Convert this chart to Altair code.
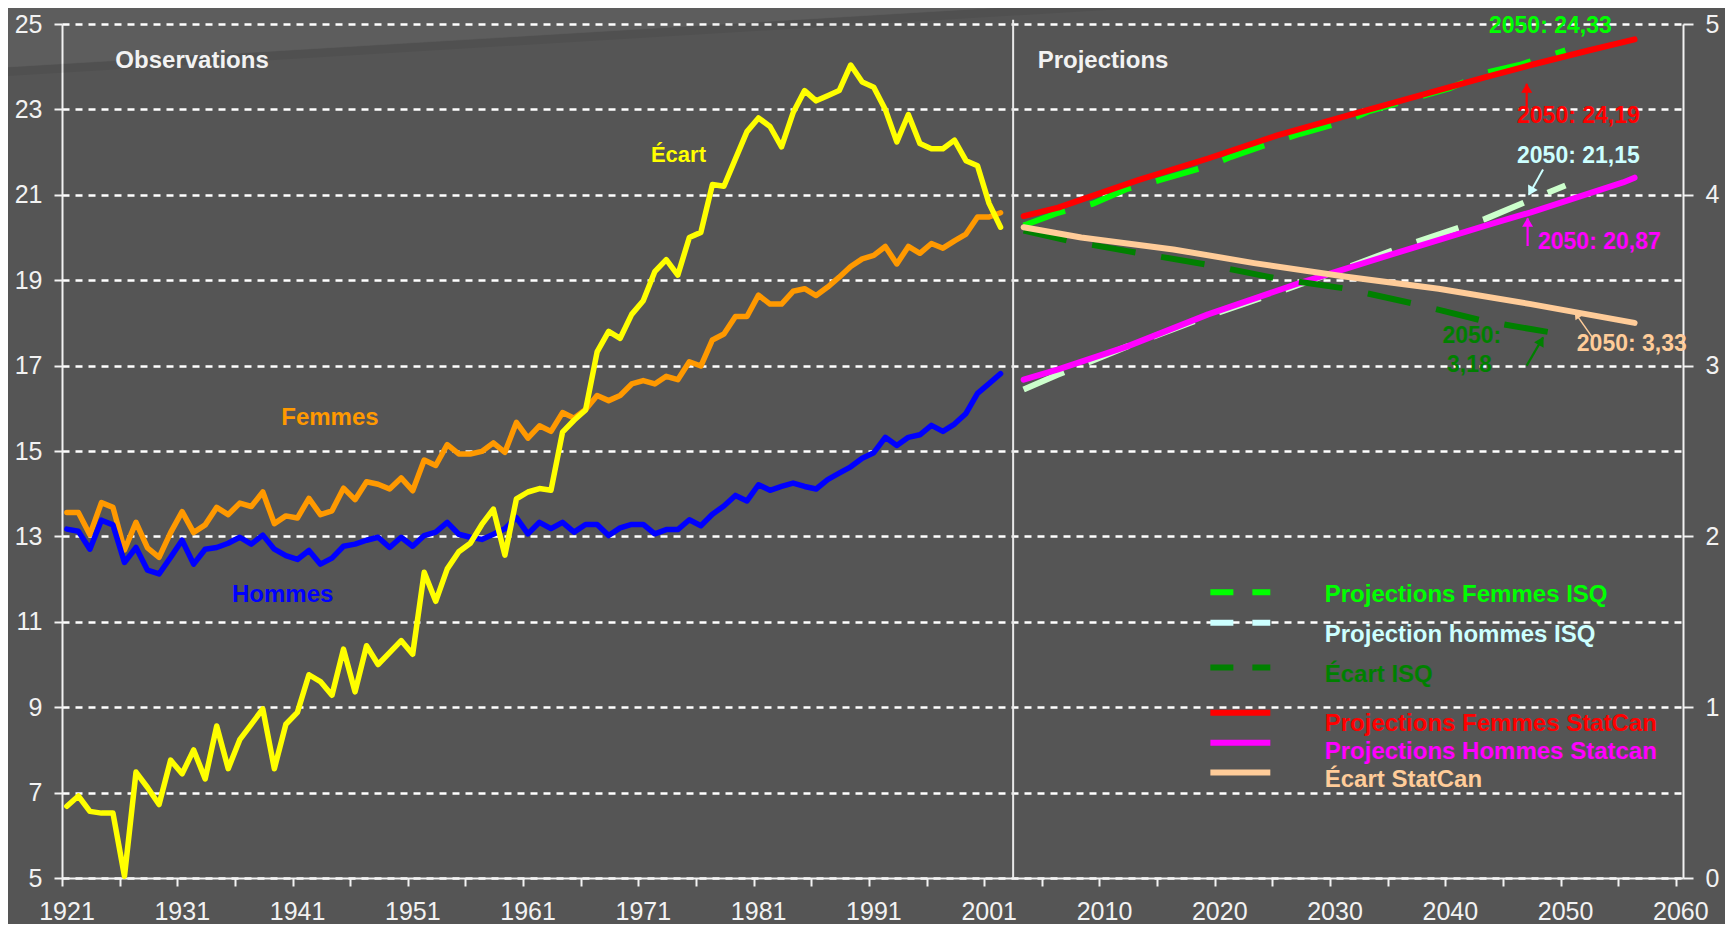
import json
import altair as alt
import pandas as pd

FONT = "Liberation Sans"
WHITE = "#F2F2F2"

# ---------------- data ----------------
OBS_YEARS = list(range(1921, 2003))
FEMMES = [
    13.56, 13.56, 13.04, 13.79, 13.68, 12.68, 13.33, 12.73, 12.51, 13.09,
    13.58, 13.09, 13.27, 13.68, 13.51, 13.78, 13.70, 14.04, 13.30, 13.48,
    13.43, 13.89, 13.51, 13.60, 14.13, 13.86, 14.28, 14.22, 14.11, 14.37,
    14.07, 14.79, 14.66, 15.15, 14.93, 14.93, 14.99, 15.19, 14.97, 15.67,
    15.30, 15.59, 15.46, 15.90, 15.77, 15.97, 16.30, 16.18, 16.30, 16.57,
    16.65, 16.57, 16.75, 16.67, 17.09, 16.99, 17.60, 17.74, 18.15, 18.15,
    18.65, 18.44, 18.44, 18.74, 18.80, 18.64, 18.84, 19.07, 19.32, 19.50,
    19.58, 19.79, 19.38, 19.79, 19.63, 19.86, 19.75, 19.92, 20.08, 20.48,
    20.48, 20.58,
]
HOMMES = [
    13.17, 13.12, 12.70, 13.38, 13.27, 12.39, 12.74, 12.21, 12.12, 12.51,
    12.91, 12.35, 12.70, 12.74, 12.84, 12.98, 12.82, 13.03, 12.70, 12.55,
    12.46, 12.67, 12.35, 12.49, 12.77, 12.82, 12.91, 12.98, 12.74, 12.98,
    12.77, 13.02, 13.10, 13.33, 13.05, 12.98, 12.93, 13.05, 13.18, 13.44,
    13.06, 13.33, 13.18, 13.33, 13.10, 13.28, 13.28, 13.02, 13.20, 13.28,
    13.28, 13.06, 13.16, 13.16, 13.39, 13.25, 13.52, 13.71, 13.96, 13.83,
    14.21, 14.08, 14.17, 14.25, 14.17, 14.11, 14.33, 14.48, 14.63, 14.83,
    14.96, 15.32, 15.13, 15.32, 15.38, 15.60, 15.46, 15.63, 15.88, 16.35,
    16.58, 16.81,
]
ECART = [
    0.42, 0.48, 0.39, 0.38, 0.38, 0.01, 0.62, 0.53, 0.43, 0.69,
    0.61, 0.75, 0.58, 0.89, 0.64, 0.81, 0.90, 0.99, 0.64, 0.90,
    0.97, 1.19, 1.15, 1.07, 1.34, 1.09, 1.36, 1.25, 1.32, 1.39,
    1.31, 1.79, 1.62, 1.81, 1.91, 1.96, 2.07, 2.16, 1.89, 2.22,
    2.26, 2.28, 2.27, 2.61, 2.68, 2.74, 3.08, 3.20, 3.16, 3.30,
    3.38, 3.55, 3.62, 3.53, 3.75, 3.78, 4.06, 4.05, 4.21, 4.37,
    4.45, 4.40, 4.28, 4.48, 4.61, 4.55, 4.58, 4.61, 4.76, 4.66,
    4.63, 4.50, 4.31, 4.47, 4.30, 4.27, 4.27, 4.32, 4.20, 4.17,
    3.95, 3.81,
]

ISQ_F_YEARS = [2003, 2006, 2009, 2012, 2015, 2019, 2021, 2025, 2027, 2031, 2033, 2037, 2040, 2043, 2046, 2050]
ISQ_F = [20.28, 20.58, 20.79, 21.14, 21.36, 21.67, 21.89, 22.26, 22.43, 22.73, 22.96, 23.27, 23.50, 23.85, 24.04, 24.38]
ISQ_H_YEARS = [2003, 2006, 2012, 2019, 2025, 2031, 2036, 2043, 2050]
ISQ_H = [16.44, 16.79, 17.45, 18.16, 18.71, 19.29, 19.80, 20.43, 21.22]
ISQ_E_YEARS = [2003, 2007, 2012, 2019, 2025, 2031, 2037, 2043, 2050]
ISQ_E = [3.79, 3.73, 3.67, 3.59, 3.51, 3.45, 3.36, 3.26, 3.18]
SC_F_YEARS = [2003, 2006, 2013, 2019, 2025, 2031, 2037, 2043, 2047, 2052, 2056]
SC_F = [20.50, 20.70, 21.35, 21.85, 22.39, 22.85, 23.30, 23.75, 24.04, 24.38, 24.64]
SC_H_YEARS = [2003, 2006, 2012, 2019, 2027, 2035, 2043, 2047, 2055, 2056]
SC_H = [16.67, 16.91, 17.45, 18.20, 18.94, 19.61, 20.27, 20.59, 21.29, 21.40]
SC_E_YEARS = [2003, 2008, 2016, 2023, 2031, 2039, 2047, 2056]
SC_E = [3.81, 3.75, 3.68, 3.60, 3.52, 3.45, 3.36, 3.25]

X_LABELS = ["1921", "", "1931", "", "1941", "", "1951", "", "1961", "", "1971", "",
            "1981", "", "1991", "", "2001", "", "2010", "", "2020", "", "2030", "",
            "2040", "", "2050", "", "2060"]
LEFT_TICKS = [5, 7, 9, 11, 13, 15, 17, 19, 21, 23, 25]
RIGHT_TICKS = [0, 1, 2, 3, 4, 5]

LEGEND_LABELS = ["Projections Femmes ISQ", "Projection hommes ISQ", "Écart ISQ",
                 "Projections Femmes StatCan", "Projections Hommes Statcan", "Écart StatCan"]

# ---------------- styling ----------------
C_FEM, C_HOM, C_ECA = "#FF9900", "#0000FF", "#FFFF00"
C_ISQF, C_ISQH, C_ISQE = "#00FF00", "#CCFFCC", "#008000"
C_SCF, C_SCH, C_SCE = "#FF0000", "#FF00FF", "#FFCC99"
C_ISQH_TXT = "#CCFFFF"
DASH = [44, 26]
OBS_W, PROJ_W = 5.5, 6.0

X0, X1 = -0.42, 140.2
W, H = 1621, 854


def obs_pos(y):
    return y - 1921


def proj_pos(y):
    return y - 1920


x_axis = alt.Axis(
    values=[X0 + 5 * k for k in range(29)],
    labelExpr=json.dumps(X_LABELS) + "[round((datum.value + 0.42) / 5)]",
    labelOffset=4.5, labelFlush=False, labelOverlap=False, labelBound=False,
    tickSize=8, tickWidth=2, tickColor=WHITE, domainColor=WHITE, domainWidth=2,
    labelColor=WHITE, labelFont=FONT, labelFontSize=25, labelPadding=13,
    grid=False, title=None,
)
X = lambda f="pos": alt.X(f"{f}:Q", scale=alt.Scale(domain=[X0, X1], nice=False, zero=False), axis=x_axis)

left_scale = alt.Scale(domain=[5, 25], nice=False, zero=False)
right_scale = alt.Scale(domain=[0, 5], nice=False, zero=False)

left_axis = alt.Axis(
    values=LEFT_TICKS, orient="left", tickSize=8, tickWidth=2, tickColor=WHITE,
    domainColor=WHITE, domainWidth=2, labelColor=WHITE, labelFont=FONT, labelFontSize=25,
    labelPadding=12, grid=True, gridDash=[7, 6], gridColor="#FFFFFF", gridWidth=2.5,
    gridOpacity=1, title=None,
)
right_axis = alt.Axis(
    values=RIGHT_TICKS, orient="right", tickSize=10, tickWidth=2, tickColor=WHITE,
    domainColor=WHITE, domainWidth=2, labelColor=WHITE, labelFont=FONT, labelFontSize=25,
    labelPadding=12, grid=False, title=None,
)


def series_df(years, values, posf):
    return pd.DataFrame({"pos": [posf(y) for y in years], "v": values})


def line(df, color, scale, axis, width=OBS_W, dash=None):
    kw = dict(color=color, strokeWidth=width, strokeJoin="round", clip=False)
    if dash:
        kw["strokeDash"] = dash
        kw["strokeCap"] = "butt"
    else:
        kw["strokeCap"] = "round"
    return alt.Chart(df).mark_line(**kw).encode(
        x=X(), y=alt.Y("v:Q", scale=scale, axis=axis)
    )


# decorative background band of the slide (top-left), drawn first
one = pd.DataFrame({"a": [0]})
band_light = alt.Chart(one).mark_rule(color="#FFFFFF", opacity=0.05, strokeWidth=120, clip=False).encode(
    x=alt.value(-80), y=alt.value(-15), x2=alt.value(1250), y2=alt.value(-94.8)
)
band_dark = alt.Chart(one).mark_rule(color="#000000", opacity=0.06, strokeWidth=9, clip=False).encode(
    x=alt.value(-80), y=alt.value(49), x2=alt.value(1250), y2=alt.value(-30.8)
)

# left-axis group
left = alt.layer(
    band_light, band_dark,
    line(series_df(ISQ_F_YEARS, ISQ_F, proj_pos), C_ISQF, left_scale, left_axis, PROJ_W, DASH),
    line(series_df(ISQ_H_YEARS, ISQ_H, proj_pos), C_ISQH, left_scale, left_axis, PROJ_W, DASH),
    line(series_df(SC_F_YEARS, SC_F, proj_pos), C_SCF, left_scale, left_axis, PROJ_W),
    line(series_df(SC_H_YEARS, SC_H, proj_pos), C_SCH, left_scale, left_axis, PROJ_W),
    line(series_df(OBS_YEARS, FEMMES, obs_pos), C_FEM, left_scale, left_axis),
    line(series_df(OBS_YEARS, HOMMES, obs_pos), C_HOM, left_scale, left_axis),
)

# right-axis group
right = alt.layer(
    line(series_df(ISQ_E_YEARS, ISQ_E, proj_pos), C_ISQE, right_scale, right_axis, PROJ_W, DASH),
    line(series_df(SC_E_YEARS, SC_E, proj_pos), C_SCE, right_scale, right_axis, PROJ_W),
    line(series_df(OBS_YEARS, ECART, obs_pos), C_ECA, right_scale, right_axis),
)

# annotations (left-axis units)
ann_scale = alt.Scale(domain=[5, 25], nice=False, zero=False)
YA = lambda f: alt.Y(f"{f}:Q", scale=ann_scale, axis=None)

sep = alt.Chart(pd.DataFrame({"pos": [82.09], "y": [25.1], "y2": [5.0]})).mark_rule(
    color="#E8E8E8", strokeWidth=2, clip=False
).encode(x=X(), y=YA("y"), y2="y2:Q")

texts = pd.DataFrame([
    ("Observations", 4.21, 23.96, WHITE),
    ("Projections", 84.22, 23.96, WHITE),
    ("Femmes", 18.60, 15.62, C_FEM),
    ("Hommes", 14.33, 11.47, C_HOM),
    ("Écart", 50.67, 21.76, C_ECA),
    ("2050: 24,33", 123.37, 24.80, C_ISQF),
    ("2050: 24,19", 125.80, 22.68, C_SCF),
    ("2050: 21,15", 125.80, 21.74, C_ISQH_TXT),
    ("2050: 20,87", 127.62, 19.74, C_SCH),
    ("2050:", 119.33, 17.54, C_ISQE),
    ("3,18", 119.73, 16.84, C_ISQE),
    ("2050: 3,33", 130.99, 17.35, C_SCE),
    (LEGEND_LABELS[0], 109.12, 11.47, C_ISQF),
    (LEGEND_LABELS[1], 109.12, 10.52, C_ISQH_TXT),
    (LEGEND_LABELS[2], 109.12, 9.59, C_ISQE),
    (LEGEND_LABELS[3], 109.12, 8.44, C_SCF),
    (LEGEND_LABELS[4], 109.12, 7.78, C_SCH),
    (LEGEND_LABELS[5], 109.12, 7.12, C_SCE),
], columns=["label", "pos", "y", "color"])
texts["fs"] = [24, 24, 24, 24, 22, 23, 23, 23, 23, 23, 23, 23, 24, 24, 24, 24, 24, 24]

text_layer = alt.Chart(texts).mark_text(
    font=FONT, fontWeight="bold", align="left", baseline="alphabetic", clip=False
).encode(
    x=X(), y=YA("y"), text="label:N",
    color=alt.Color("color:N", scale=None),
    size=alt.Size("fs:Q", scale=None),
)

leg_sym = pd.DataFrame({
    "pos": [99.2] * 6, "pos2": [104.4] * 6,
    "y": [11.69, 10.98, 9.93, 8.87, 8.17, 7.47],
    "color": [C_ISQF, C_ISQH_TXT, C_ISQE, C_SCF, C_SCH, C_SCE],
    "dashed": [True, True, True, False, False, False],
})
leg_dashed = alt.Chart(leg_sym[leg_sym.dashed]).mark_rule(
    strokeWidth=6, strokeDash=[23, 19], strokeCap="butt", clip=False
).encode(x=X(), x2="pos2:Q", y=YA("y"), color=alt.Color("color:N", scale=None))
leg_solid = alt.Chart(leg_sym[~leg_sym.dashed]).mark_rule(
    strokeWidth=6, strokeCap="butt", clip=False
).encode(x=X(), x2="pos2:Q", y=YA("y"), color=alt.Color("color:N", scale=None))

arrows = pd.DataFrame({
    "pos": [126.64, 126.72, 128.06, 126.64, 132.44],
    "pos2": [126.64, 126.72, 126.84, 128.06, 130.83],
    "y": [23.03, 19.80, 21.59, 17.00, 17.62],
    "y2": [23.60, 20.45, 21.00, 17.66, 18.24],
    "color": [C_SCF, C_SCH, C_ISQH_TXT, C_ISQE, C_SCE],
    "w": [2.2, 2.2, 2.0, 2.2, 1.5],
})
arrow_shaft = alt.Chart(arrows).mark_rule(clip=False).encode(
    x=X(), x2="pos2:Q", y=YA("y"), y2="y2:Q",
    color=alt.Color("color:N", scale=None),
    strokeWidth=alt.StrokeWidth("w:Q", scale=None),
)
heads = pd.DataFrame({
    "pos": [126.64, 126.72, 126.98, 127.90, 130.98],
    "y": [23.50, 20.36, 21.08, 17.58, 18.18],
    "angle": [0, 0, 209, 30, 325],
    "sz": [120, 120, 120, 120, 60],
    "color": [C_SCF, C_SCH, C_ISQH_TXT, C_ISQE, C_SCE],
})
arrow_head = alt.Chart(heads).mark_point(shape="triangle-up", filled=True, opacity=1, clip=False).encode(
    x=X(), y=YA("y"),
    angle=alt.Angle("angle:Q", scale=None),
    size=alt.Size("sz:Q", scale=None),
    color=alt.Color("color:N", scale=None),
)

annot = alt.layer(sep, leg_dashed, leg_solid, arrow_shaft, arrow_head, text_layer)

chart = alt.layer(left, right, annot).resolve_scale(y="independent").properties(
    width=W, height=H, autosize="none",
    padding={"left": 54, "top": 16, "right": 42, "bottom": 45.5},
).configure(background="#555555").configure_view(strokeWidth=0)

chart.save("out.html", embed_options={"renderer": "svg", "actions": False})
